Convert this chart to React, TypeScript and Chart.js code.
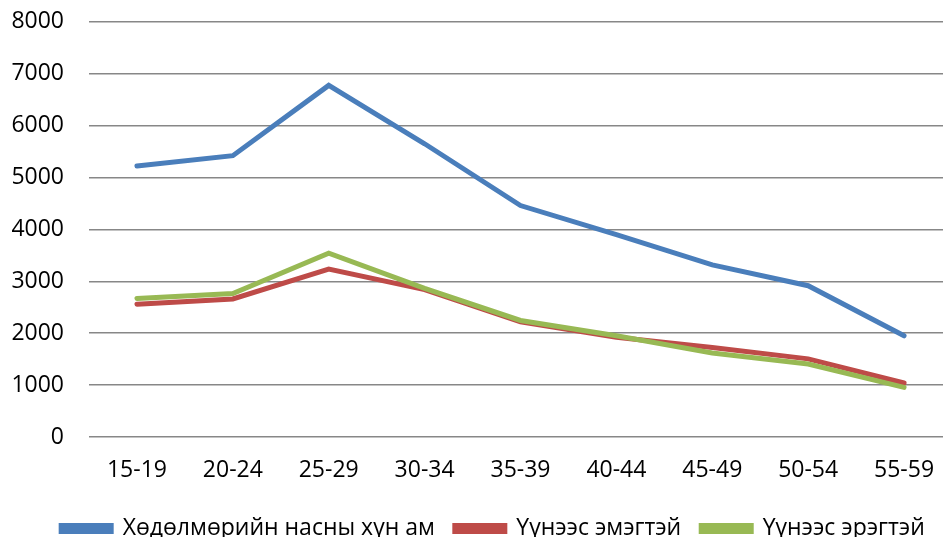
import React, { useEffect, useRef } from "react";
import { Chart, registerables } from "chart.js";

Chart.register(...registerables);

const categories = ["15-19", "20-24", "25-29", "30-34", "35-39", "40-44", "45-49", "50-54", "55-59"];
const totalPop = [5220, 5420, 6775, 5650, 4460, 3900, 3315, 2915, 1950];
const female = [2560, 2660, 3235, 2840, 2220, 1920, 1725, 1505, 1040];
const male = [2670, 2765, 3540, 2865, 2245, 1950, 1620, 1405, 955];
const seriesNames = ["Хөдөлмөрийн насны хүн ам", "Үүнээс эмэгтэй", "Үүнээс эрэгтэй"];
const yTicks = [0, 1000, 2000, 3000, 4000, 5000, 6000, 7000, 8000];

const colors = ["#4A7EBB", "#BE4B48", "#98B954"];
const FONT = "'Open Sans', 'Noto Sans', sans-serif";

const legendShift = {
  id: "legendShift",
  afterLayout(chart: any) {
    if (chart.legend) {
      chart.legend.left += 17;
      chart.legend.right += 17;
    }
  },
};

export default function App() {
  const ref = useRef<HTMLCanvasElement | null>(null);
  useEffect(() => {
    if (!ref.current) return;
    const series = [totalPop, female, male];
    const chart = new Chart(ref.current, {
      type: "line",
      data: {
        labels: categories,
        datasets: series.map((d, i) => ({
          label: seriesNames[i],
          data: d,
          borderColor: colors[i],
          backgroundColor: colors[i],
          borderWidth: 5,
          pointRadius: 0,
          tension: 0,
          borderCapStyle: "round" as const,
          order: 2 - i,
        })),
      },
      plugins: [legendShift],
      options: {
        responsive: false,
        animation: false,
        layout: { padding: { top: 0, left: 0, right: 8, bottom: 0 } },
        scales: {
          x: {
            offset: true,
            grid: { display: false, drawTicks: false },
            border: { display: false },
            ticks: { color: "#000", font: { family: FONT, size: 23 }, padding: 20 },
            afterFit: (s: any) => {
              s.height = 60;
            },
          },
          y: {
            min: 0,
            max: 8000,
            afterBuildTicks: (s: any) => {
              s.ticks = yTicks.map((v) => ({ value: v }));
            },
            afterFit: (s: any) => {
              s.width = 89;
            },
            grid: { color: "#878787", lineWidth: 1.5, drawTicks: false },
            border: { display: false },
            ticks: {
              color: "#000",
              font: { family: FONT, size: 23 },
              padding: 25,
              callback: (v: any) => String(v),
            },
          },
        },
        plugins: {
          legend: {
            position: "bottom",
            labels: {
              color: "#000",
              font: { family: FONT, size: 23 },
              boxWidth: 50,
              boxHeight: 6,
              padding: 20,
              sort: (a: any, b: any) => a.datasetIndex - b.datasetIndex,
            },
          },
          tooltip: { enabled: false },
        },
      },
    });
    return () => chart.destroy();
  }, []);
  return (
    <div style={{ position: "fixed", left: 0, top: 0, width: 943, height: 537, overflow: "hidden", background: "#fff" }}>
      <canvas
        ref={ref}
        width={960}
        height={567}
        style={{ width: 960, height: 567, display: "block", marginTop: -17 }}
      />
    </div>
  );
}
